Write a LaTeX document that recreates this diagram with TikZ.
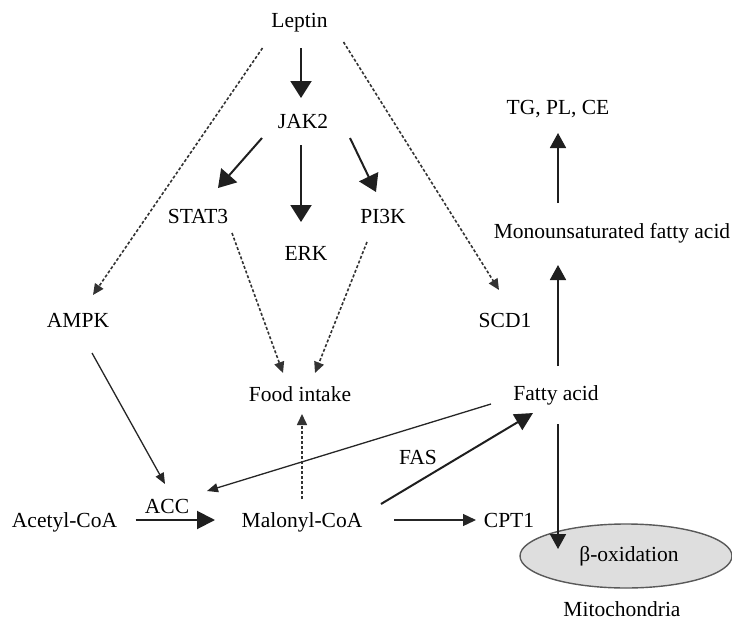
\documentclass[tikz,border=0pt]{standalone}
\usepackage{fontspec}
\setmainfont{Liberation Serif}
\usetikzlibrary{arrows.meta,calc,shapes.geometric}
\begin{document}
\begin{tikzpicture}[x=1pt,y=-1pt,
  lbl/.style={inner sep=0pt,text height=14.5pt,text depth=4.5pt,anchor=center,
    font=\fontsize{21.5}{24}\selectfont,text=black},
  bigarr/.style={draw=black!88,line width=2pt,-{Triangle[length=17pt,width=21pt]}},
  fasarr/.style={draw=black!88,line width=2pt,-{Triangle[length=18pt,width=18pt]}},
  medarr/.style={draw=black!88,line width=1.8pt,-{Triangle[length=15pt,width=16pt]}},
  thinarr/.style={draw=black!85,line width=1.3pt,-{Triangle[length=11pt,width=9pt]}},
  cptarr/.style={draw=black!85,line width=1.3pt,-{Triangle[length=13pt,width=12pt]}},
  dasharr/.style={draw=black!80,line width=1.6pt,dash pattern=on 3pt off 2pt,-{Triangle[length=11pt,width=10pt]}}
]
\useasboundingbox (0,0) rectangle (732,622);
% ellipse
\node[draw=black!65,line width=1.4pt,fill=black!13,ellipse,minimum width=212pt,minimum height=64pt,inner sep=0pt] (mitoell) at (626,556) {};
% labels
\node[lbl] (leptin) at (299.5,22) {Leptin};
\node[lbl] (jak2) at (303,123) {JAK2};
\node[lbl] (stat3) at (198,218) {STAT3};
\node[lbl] (erk) at (306,255) {ERK};
\node[lbl] (pi3k) at (383,218) {PI3K};
\node[lbl] (ampk) at (78,322) {AMPK};
\node[lbl] (scd1) at (505,322) {SCD1};
\node[lbl] (tg) at (558,109) {TG, PL, CE};
\node[lbl] (mono) at (612,233) {Monounsaturated fatty acid};
\node[lbl] (fa) at (556,395) {Fatty acid};
\node[lbl] (food) at (300,396) {Food intake};
\node[lbl] (acc) at (167,508) {ACC};
\node[lbl] (acetyl) at (64.5,522) {Acetyl-CoA};
\node[lbl] (malonyl) at (302,522) {Malonyl-CoA};
\node[lbl] (cpt1) at (509,522) {CPT1};
\node[lbl] (fas) at (418,459) {FAS};
\node[lbl] (box) at (629,556) {β-oxidation};
\node[lbl] (mito) at (622,611) {Mitochondria};
% solid thick arrows
\draw[bigarr] ($(leptin)+(1.5,26)$) -- ($(jak2)+(-2,-25)$);
\draw[bigarr] ($(jak2)+(-2,22)$) -- ($(erk)+(-5,-33)$);
\draw[bigarr] ($(jak2)+(-41,15)$) -- ($(stat3)+(20,-30)$);
\draw[bigarr] ($(jak2)+(47,15)$) -- ($(pi3k)+(-7,-26)$);
\draw[fasarr] ($(acetyl)+(71,-2)$) -- ($(malonyl)+(-87,-2)$);
\draw[fasarr] ($(malonyl)+(79,-18)$) -- ($(fa)+(-23,18)$);
\draw[medarr] ($(fa)+(2,-29)$) -- ($(mono)+(-54,32)$);
\draw[medarr] ($(mono)+(-54,-30)$) -- ($(tg)+(0,24)$);
\draw[medarr] ($(fa)+(2,29)$) -- ($(mitoell)+(-68,-7)$);
% thin arrows
\draw[thinarr] ($(ampk)+(14,31)$) -- ($(acc)+(-2,-24)$);
\draw[thinarr] ($(fa)+(-65,9)$) -- ($(acc)+(40,-17)$);
\draw[cptarr] ($(malonyl)+(92,-2)$) -- ($(cpt1)+(-33,-2)$);
% dashed arrows
\draw[dasharr] ($(leptin)+(-37,26)$) -- ($(ampk)+(15,-27)$);
\draw[dasharr] ($(leptin)+(44,20)$) -- ($(scd1)+(-6,-32)$);
\draw[dasharr] ($(stat3)+(34,15)$) -- ($(food)+(-17,-23)$);
\draw[dasharr] ($(pi3k)+(-16,24)$) -- ($(food)+(15,-23)$);
\draw[dasharr] ($(malonyl)+(0,-23)$) -- ($(food)+(2,18)$);
\end{tikzpicture}
\end{document}
